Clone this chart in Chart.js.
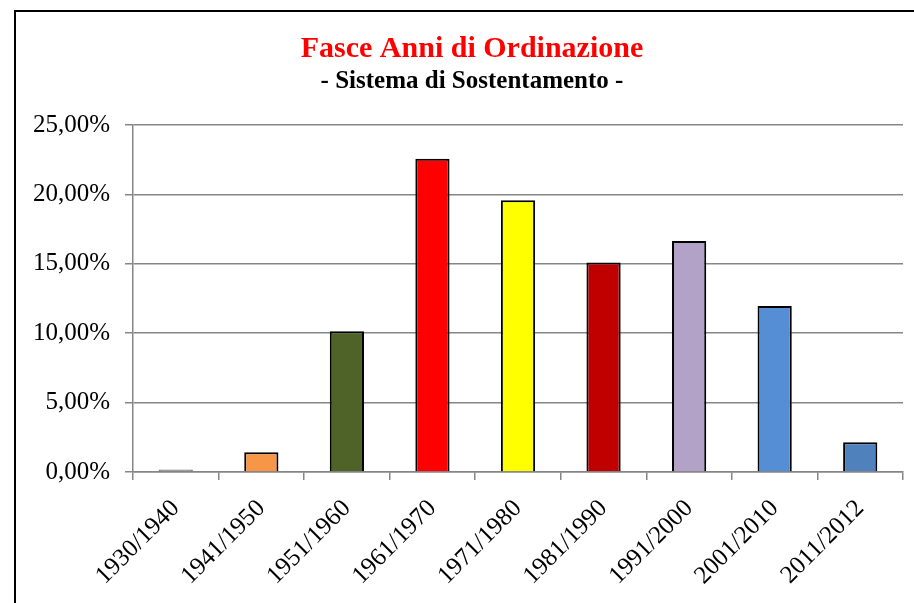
<!DOCTYPE html>
<html>
<head>
<meta charset="utf-8">
<script src="https://cdn.jsdelivr.net/npm/chart.js@4.4.1/dist/chart.umd.min.js"></script>
<style>
html,body{margin:0;padding:0;background:#fff;overflow:hidden;}
#wrap{width:914px;height:603px;position:relative;}
</style>
</head>
<body>
<div id="wrap"><canvas id="c" width="914" height="603"></canvas></div>
<script>
const categories = ["1930/1940","1941/1950","1951/1960","1961/1970","1971/1980","1981/1990","1991/2000","2001/2010","2011/2012"];
const values = [0.18, 1.42, 10.14, 22.57, 19.57, 15.09, 16.64, 11.96, 2.14];
const barColors = ["#7F7F7F","#F79646","#4F6228","#FF0000","#FFFF00","#C00000","#B3A2C7","#558ED5","#4F81BD"];
const borderColors = ["#7F7F7F","#000000","#000000","#000000","#000000","#000000","#000000","#000000","#000000"];
const yTicks = [0, 5, 10, 15, 20, 25];
const titleText = "Fasce Anni di Ordinazione";
const subtitleText = "- Sistema di Sostentamento -";

const frame = {
  id: 'frame',
  afterLayout(chart) {
    // widen the y-axis label clip box to the left edge of the canvas
    if (chart.scales.y) chart.scales.y.left = 0;
  },
  afterDraw(chart) {
    const ctx = chart.ctx;
    ctx.save();
    ctx.strokeStyle = '#000';
    ctx.lineWidth = 2;
    ctx.strokeRect(15, 11, 1000, 1000);
    ctx.restore();
  }
};

new Chart(document.getElementById('c'), {
  type: 'bar',
  data: {
    labels: categories,
    datasets: [{
      data: values,
      backgroundColor: barColors,
      borderColor: borderColors,
      borderWidth: 2,
      categoryPercentage: 1,
      barPercentage: 0.4
    }]
  },
  options: {
    responsive: false,
    animation: false,
    layout: { padding: { left: 41, right: 11, top: 0, bottom: 6 } },
    plugins: {
      legend: { display: false },
      tooltip: { enabled: false },
      title: {
        display: true,
        text: titleText,
        color: '#FF0000',
        font: { family: "'Liberation Serif', serif", size: 30, weight: 'bold' },
        padding: { top: 31, bottom: 0 }
      },
      subtitle: {
        display: true,
        text: subtitleText,
        color: '#000000',
        font: { family: "'Liberation Serif', serif", size: 25, weight: 'bold' },
        padding: { top: 0, bottom: 28 }
      }
    },
    scales: {
      x: {
        afterFit(axis) { axis.height = 125; },
        grid: { display: true, drawOnChartArea: false, drawTicks: true, tickLength: 8, color: '#868686', lineWidth: 1.5, offset: true },
        border: { display: true, color: '#868686', width: 1.5 },
        ticks: {
          color: '#000',
          font: { family: "'Liberation Serif', serif", size: 25 },
          minRotation: 45, maxRotation: 45,
          padding: 14,
          autoSkip: false
        }
      },
      y: {
        min: 0, max: 25,
        afterFit(axis) { axis.width = 92; },
        afterBuildTicks(axis) { axis.ticks = yTicks.map(v => ({ value: v })); },
        grid: { color: '#868686', lineWidth: 1.5, drawTicks: true, tickLength: 8 },
        border: { display: true, color: '#868686', width: 1.5 },
        ticks: {
          color: '#000',
          font: { family: "'Liberation Serif', serif", size: 25 },
          padding: 15,
          callback: v => v.toFixed(2).replace('.', ',') + '%'
        }
      }
    }
  },
  plugins: [frame]
});
</script>
</body>
</html>
